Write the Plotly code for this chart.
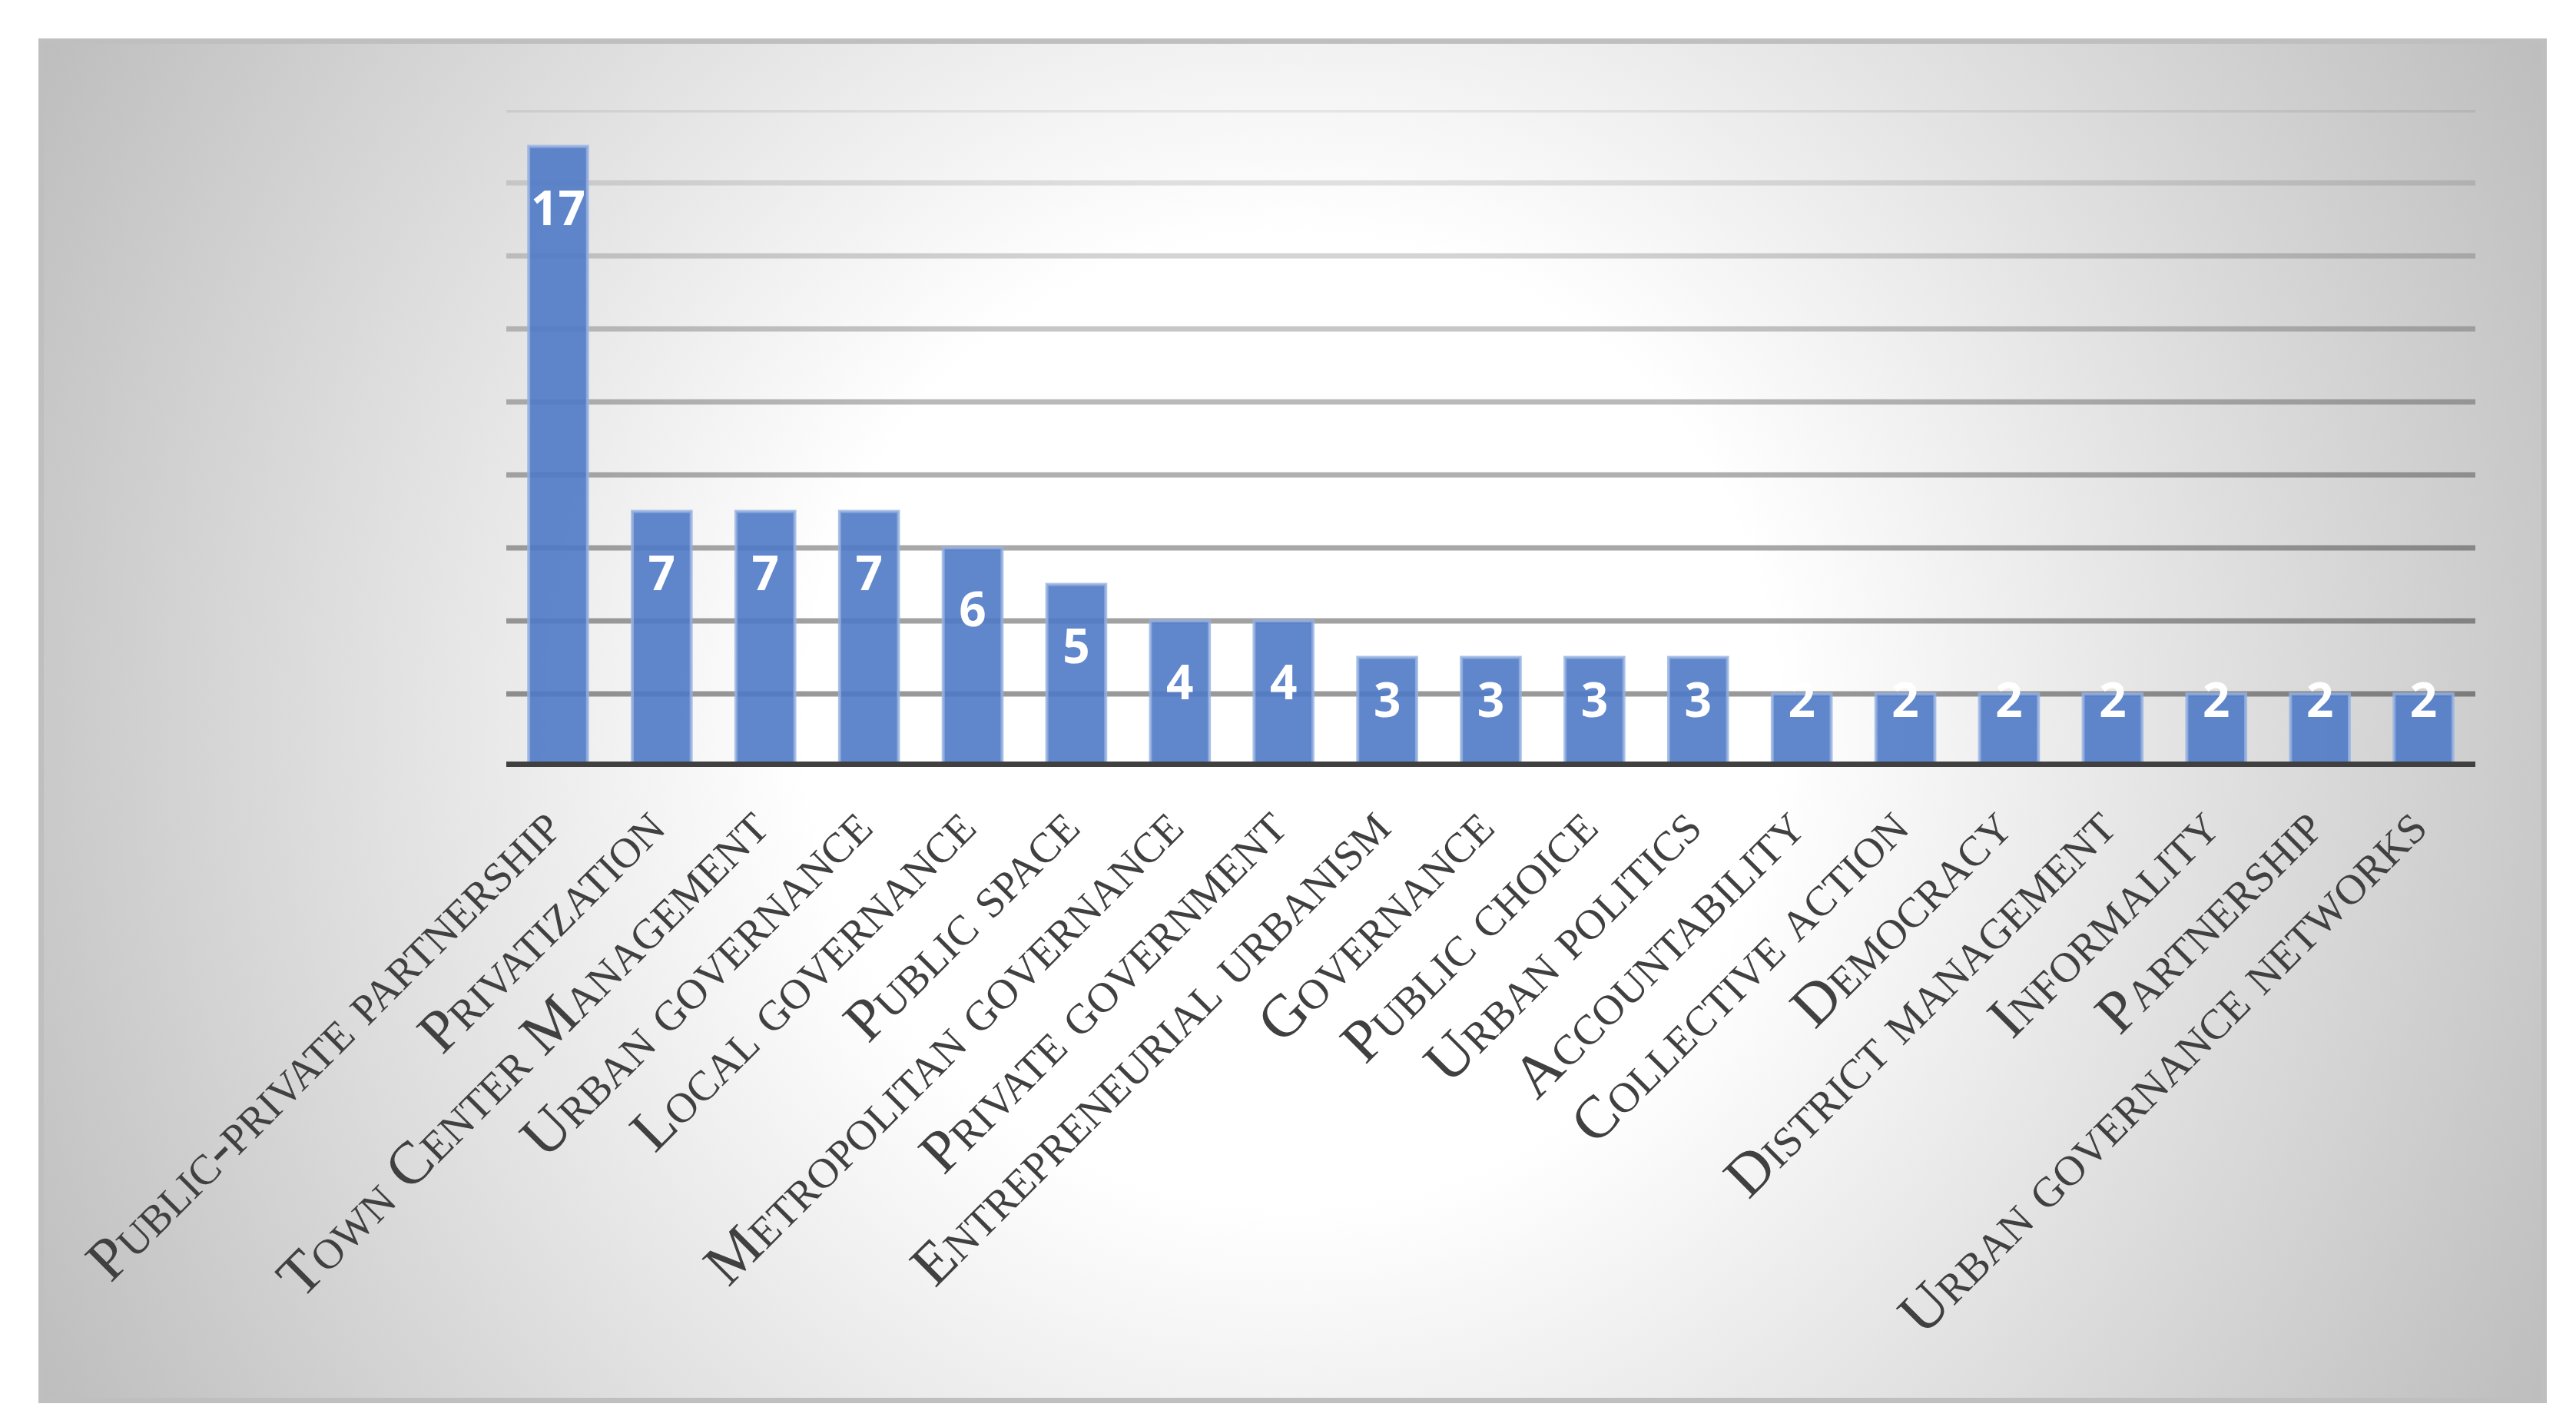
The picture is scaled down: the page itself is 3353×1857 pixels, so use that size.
import base64
import plotly.graph_objects as go

# ---------------- data ----------------
categories = [
    "Public-private partnership", "Privatization", "Town Center Management",
    "Urban governance", "Local governance", "Public space",
    "Metropolitan governance", "Private government", "Entrepreneurial urbanism",
    "Governance", "Public choice", "Urban politics", "Accountability",
    "Collective action", "Democracy", "District management", "Informality",
    "Partnership", "Urban governance networks",
]
values = [17, 7, 7, 7, 6, 5, 4, 4, 3, 3, 3, 3, 2, 2, 2, 2, 2, 2, 2]
grid_values = [2, 4, 6, 8, 10, 12, 14, 16, 18]
grid_alpha = [0.40, 0.37, 0.34, 0.31, 0.27, 0.22, 0.17, 0.11, 0.07]
y_max = 18

# ---------------- layout geometry (pixels) ----------------
W, H = 3353, 1857
PL, PR, PT, PB = 651, 3214, 135, 990          # plot area
FX0, FX1, FY0, FY1 = 42, 3307, 42, 1818       # outer chart frame


def px_x(p):
    return (p - PL) / (PR - PL)


def px_y(p):
    return (PB - p) / (PB - PT)


# radial gradient background as svg
fw, fh = FX1 - FX0, FY1 - FY0
r = ((fw / 2) ** 2 + (fh / 2) ** 2) ** 0.5
svg = f'''<svg xmlns="http://www.w3.org/2000/svg" width="{fw}" height="{fh}" viewBox="0 0 {fw} {fh}" preserveAspectRatio="none">
<defs><radialGradient id="g" gradientUnits="userSpaceOnUse" cx="{fw/2}" cy="{fh/2}" r="{r}">
<stop offset="0" stop-color="#ffffff"/><stop offset="0.34" stop-color="#ffffff"/>
<stop offset="1" stop-color="#bdbdbd"/></radialGradient></defs>
<rect x="0" y="0" width="{fw}" height="{fh}" fill="url(#g)"/></svg>'''
svg_uri = "data:image/svg+xml;base64," + base64.b64encode(svg.encode()).decode()

# data label positions (inside end, clamped near bottom for short bars)
label_offset, label_min = 1.83, 1.70
label_y = [max(v - label_offset, label_min) for v in values]

fig = go.Figure()
fig.add_trace(go.Bar(
    x=categories, y=values,
    marker=dict(color="rgba(79,122,198,0.9)",
                line=dict(color="rgba(150,178,225,0.8)", width=4)),
    hoverinfo="skip",
))
fig.add_trace(go.Scatter(
    x=categories, y=label_y, mode="text",
    text=[str(v) for v in values], textposition="middle center",
    textfont=dict(family="Open Sans", size=62, color="white", weight=700),
    hoverinfo="skip", cliponaxis=False,
))

shapes = []
# frame border
shapes.append(dict(type="rect", xref="paper", yref="paper",
                   x0=px_x(FX0 + 3.5), x1=px_x(FX1 - 3.5),
                   y0=px_y(FY1 - 3.5), y1=px_y(FY0 + 3.5),
                   line=dict(color="#bfbfbf", width=7), layer="below"))
# gridlines
for gv, a in zip(grid_values, grid_alpha):
    shapes.append(dict(type="line", xref="paper", yref="y", x0=0, x1=1,
                       y0=gv, y1=gv, layer="below",
                       line=dict(color=f"rgba(0,0,0,{a})", width=7)))
# baseline
shapes.append(dict(type="line", xref="paper", yref="y", x0=0, x1=1, y0=0, y1=0,
                   layer="above", line=dict(color="#404040", width=14)))

fig.update_layout(
    width=W, height=H,
    margin=dict(l=PL, r=W - PR, t=PT, b=H - PB, autoexpand=False),
    paper_bgcolor="white", plot_bgcolor="rgba(0,0,0,0)",
    showlegend=False, bargap=0.432,
    shapes=shapes,
    images=[dict(source=svg_uri, xref="paper", yref="paper",
                 x=px_x(FX0), y=px_y(FY0),
                 sizex=(FX1 - FX0) / (PR - PL), sizey=(FY1 - FY0) / (PB - PT),
                 xanchor="left", yanchor="top", sizing="stretch", layer="below")],
    xaxis=dict(
        type="category", tickangle=-45, showgrid=False, showline=False,
        range=[-0.5, len(categories) - 0.5],
        zeroline=False, ticks="", ticklabelshift=-20, ticklabelstandoff=15,
        tickfont=dict(family="Liberation Serif", size=78, color="#404040",
                      variant="small-caps"),
        automargin=False, fixedrange=True,
    ),
    yaxis=dict(range=[0, y_max], showgrid=False, showticklabels=False,
               zeroline=False, showline=False, ticks="", automargin=False,
               fixedrange=True),
)

fig.write_html("out.html")
